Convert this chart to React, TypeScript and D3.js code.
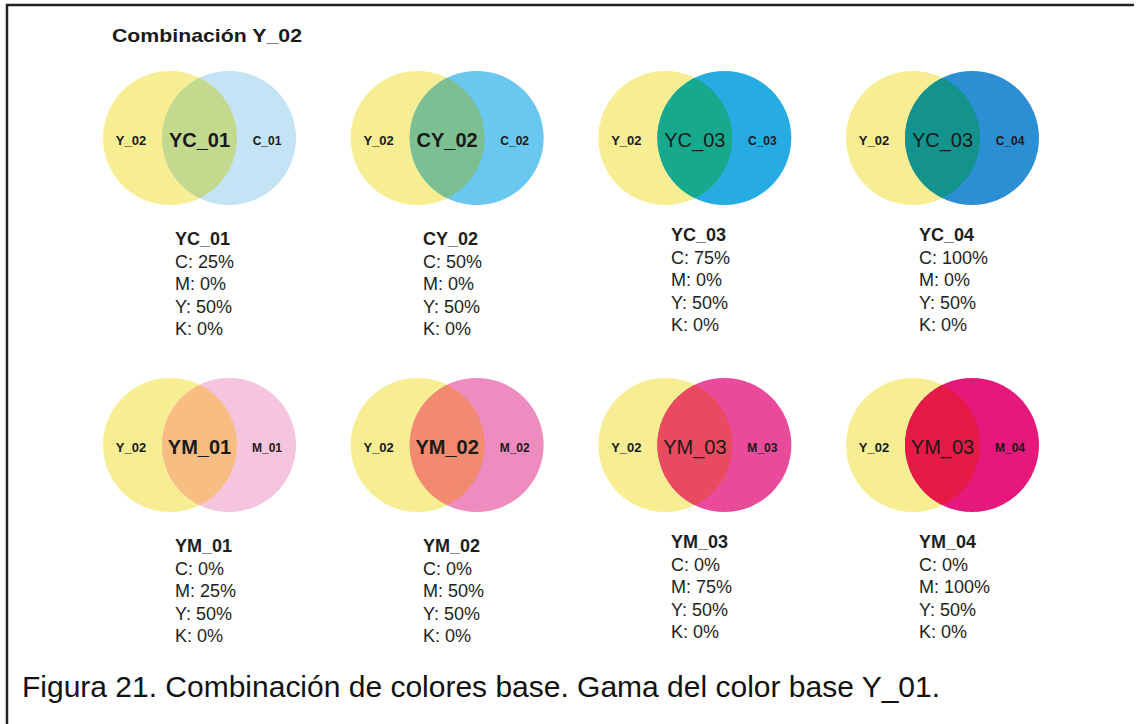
import React, { useEffect, useRef } from "react";
import * as d3 from "d3";

const chartTitle = "Combinación Y_02";
const caption = "Figura 21. Combinación de colores base. Gama del color base Y_01.";
const baseLabel = "Y_02";
const baseYellow = 50;
const baseBlack = 0;

// fila superior: amarillo + cian
const cyanNames = ["YC_01", "CY_02", "YC_03", "YC_04"];
const cyanOverlapLabels = ["YC_01", "CY_02", "YC_03", "YC_03"];
const cyanLabels = ["C_01", "C_02", "C_03", "C_04"];
const cyanValues = [25, 50, 75, 100];
const cyanColors = ["#c4e3f4", "#6ac7f0", "#26ace2", "#2c8fd3"];
const cyanMixColors = ["#c2d98e", "#7cbf92", "#17a98e", "#13938c"];

// fila inferior: amarillo + magenta
const magentaNames = ["YM_01", "YM_02", "YM_03", "YM_04"];
const magentaOverlapLabels = ["YM_01", "YM_02", "YM_03", "YM_03"];
const magentaLabels = ["M_01", "M_02", "M_03", "M_04"];
const magentaValues = [25, 50, 75, 100];
const magentaColors = ["#f4c5dc", "#ee8cbf", "#e94b9a", "#e5197c"];
const magentaMixColors = ["#f8bd82", "#f18a6f", "#e94a5f", "#e51a46"];

const yellowColor = "#f7ee94";
const font = "'Liberation Sans', Arial, sans-serif";

const W = 1136;
const H = 724;

const App = () => {
  const svgRef = useRef<SVGSVGElement>(null);

  useEffect(() => {
    const svg = d3.select(svgRef.current);
    svg.selectAll("*").remove();

    const rows = [
      {
        key: "c",
        names: cyanNames,
        overlaps: cyanOverlapLabels,
        labels: cyanLabels,
        colors: cyanColors,
        mix: cyanMixColors,
        cmyk: (i) => [cyanValues[i], 0, baseYellow, baseBlack],
        cy: 138,
        textTop: 245,
      },
      {
        key: "m",
        names: magentaNames,
        overlaps: magentaOverlapLabels,
        labels: magentaLabels,
        colors: magentaColors,
        mix: magentaMixColors,
        cmyk: (i) => [0, magentaValues[i], baseYellow, baseBlack],
        cy: 445,
        textTop: 552,
      },
    ];

    const r = 67;
    const dx = 59;
    const circleX = d3.scaleLinear().domain([0, 3]).range([170, 913]);
    const textX = d3.scaleLinear().domain([0, 3]).range([175, 919]);
    const lineY = d3.scaleLinear().domain([0, 1]).range([0, 22.6]);
    const letters = ["C", "M", "Y", "K"];

    // marco (solo arriba e izquierda)
    svg.append("line").attr("x1", 6).attr("x2", 1134).attr("y1", 5).attr("y2", 5)
      .attr("stroke", "#222").attr("stroke-width", 2.5);
    svg.append("line").attr("x1", 7).attr("x2", 7).attr("y1", 4).attr("y2", H)
      .attr("stroke", "#222").attr("stroke-width", 2.5);

    svg.append("text")
      .attr("x", 112).attr("y", 42)
      .attr("font-family", font).attr("font-weight", "bold").attr("font-size", 19)
      .attr("textLength", 190).attr("lengthAdjust", "spacingAndGlyphs")
      .attr("fill", "#1a1a1a")
      .text(chartTitle);

    const defs = svg.append("defs");

    rows.forEach((row) => {
      d3.range(4).forEach((i) => {
        const x0 = circleX(i);
        const x1 = x0 + dx;
        const g = svg.append("g");
        const clipId = `clip-${row.key}-${i}`;
        defs.append("clipPath").attr("id", clipId)
          .append("circle").attr("cx", x0).attr("cy", row.cy).attr("r", r);

        g.append("circle").attr("cx", x0).attr("cy", row.cy).attr("r", r)
          .attr("fill", yellowColor);
        g.append("circle").attr("cx", x1).attr("cy", row.cy).attr("r", r)
          .attr("fill", row.colors[i]);
        g.append("circle").attr("cx", x1).attr("cy", row.cy).attr("r", r)
          .attr("fill", row.mix[i]).attr("clip-path", `url(#${clipId})`);

        const ty = row.cy + 4;
        g.append("text")
          .attr("x", x0 - 39).attr("y", ty)
          .attr("text-anchor", "middle").attr("dominant-baseline", "middle")
          .attr("font-family", font).attr("font-weight", "bold").attr("font-size", 13)
          .attr("fill", "#1a1a1a")
          .text(baseLabel);
        g.append("text")
          .attr("x", (x0 + x1) / 2).attr("y", ty)
          .attr("text-anchor", "middle").attr("dominant-baseline", "middle")
          .attr("font-family", font).attr("font-weight", i < 2 ? "bold" : "normal").attr("font-size", 20)
          .attr("fill", "#1a1a1a")
          .text(row.overlaps[i]);
        g.append("text")
          .attr("x", x1 + 38).attr("y", ty)
          .attr("text-anchor", "middle").attr("dominant-baseline", "middle")
          .attr("font-family", font).attr("font-weight", "bold").attr("font-size", 12)
          .attr("fill", "#1a1a1a")
          .text(row.labels[i]);

        // ficha CMYK
        const vals = row.cmyk(i);
        const shift = i >= 2 ? -4 : 0;
        const t = svg.append("text")
          .attr("font-family", font).attr("font-size", 18).attr("fill", "#1e1e1e");
        t.append("tspan")
          .attr("x", textX(i)).attr("y", row.textTop + shift)
          .attr("font-weight", "bold")
          .text(row.names[i]);
        letters.forEach((l, k) => {
          t.append("tspan")
            .attr("x", textX(i)).attr("y", row.textTop + shift + lineY(k + 1))
            .text(`${l}: ${vals[k]}%`);
        });
      });
    });

    svg.append("text")
      .attr("x", 22).attr("y", 697)
      .attr("font-family", font).attr("font-size", 30)
      .attr("textLength", 918).attr("lengthAdjust", "spacingAndGlyphs")
      .attr("fill", "#111")
      .text(caption);
  }, []);

  return (
    <svg
      ref={svgRef}
      width={W}
      height={H}
      style={{ position: "absolute", left: 0, top: 0, background: "#fff" }}
    ></svg>
  );
};

export default App;
